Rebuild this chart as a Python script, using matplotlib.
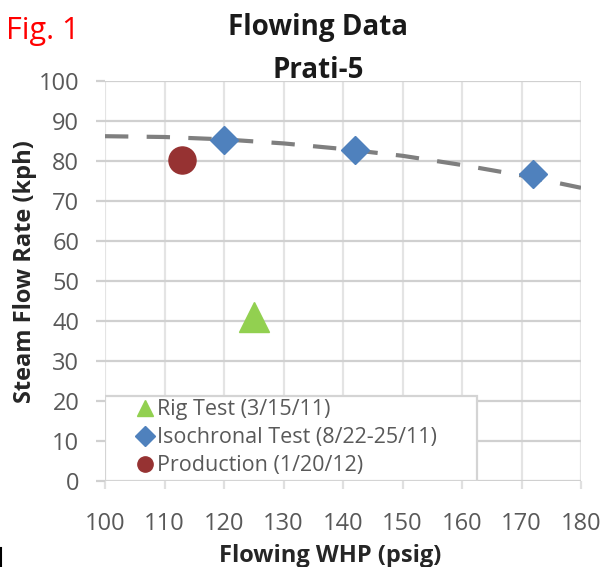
import matplotlib
matplotlib.use("Agg")
from matplotlib import pyplot as plt
from matplotlib.patches import Rectangle
from matplotlib.lines import Line2D

plt.rcParams['font.family'] = ['Open Sans', 'DejaVu Sans']

# measured points
rig_whp = [125]
rig_flow = [41]
iso_whp = [120, 142, 172]
iso_flow = [85.2, 82.8, 76.8]
prod_whp = [113]
prod_flow = [80.3]

# trend through the isochronal data
trend_whp = [100, 110, 120, 130, 140, 150, 160, 170, 180]
trend_flow = [86.2, 86.0, 85.4, 84.4, 83.0, 81.3, 79.0, 76.4, 73.3]

xticks = [100, 110, 120, 130, 140, 150, 160, 170, 180]
yticks = [0, 10, 20, 30, 40, 50, 60, 70, 80, 90, 100]

W, H = 607, 567
fig = plt.figure(figsize=(W/100, H/100), dpi=100)
ax = fig.add_axes([105/W, 1-481/H, 476/W, 400/H])

ax.plot(trend_whp, trend_flow, color='#7f7f7f', lw=3.0, dashes=(5.6, 4.4), zorder=3)
ax.plot(rig_whp, rig_flow, ls='none', marker='^', ms=21.5, color='#92D050',
        mec='#92D050', label='Rig Test (3/15/11)', zorder=4)
ax.plot(iso_whp, iso_flow, ls='none', marker='D', ms=14, color='#4F81BD',
        mec='#4F81BD', label='Isochronal Test (8/22-25/11)', zorder=4)
ax.plot(prod_whp, prod_flow, ls='none', marker='o', ms=19.5, color='#963232',
        mec='#963232', label='Production (1/20/12)', zorder=4)

ax.set_xlim(100, 180)
ax.set_ylim(0, 100)
ax.set_xticks(xticks)
ax.set_yticks(yticks)
for s in ax.spines.values():
    s.set_visible(False)
ax.set_axisbelow(True)
ax.grid(axis='y', color='#d0d0d0', lw=1.6)
ax.grid(axis='x', color='#e4e4e4', lw=1.6)
ax.tick_params(axis='y', direction='out', length=6.5, width=1.6, color='#d0d0d0',
               pad=12, labelsize=17, labelcolor='#595959')
ax.tick_params(axis='x', direction='out', length=6, width=1.6, color='#e0e0e0',
               pad=16, labelsize=17, labelcolor='#595959')

# legend box in the lower left corner
box_w, box_h = 372/476, 85/400
ax.add_patch(Rectangle((0, 0), box_w, box_h, transform=ax.transAxes,
                       facecolor='white', edgecolor='#d4d4d4', lw=1.6, zorder=5))
leg = ax.legend(loc='upper left', bbox_to_anchor=(26/476, box_h + 1/400),
                frameon=False, fontsize=15.5, handlelength=0.9, handletextpad=0.12,
                labelspacing=0.32, borderpad=0.2, borderaxespad=0)
leg.set_zorder(6)
for h, ms in zip(leg.legend_handles, [11, 10, 11]):
    h.set_markersize(ms)
for t in leg.get_texts():
    t.set_color('#595959')

fig.text(318/W, 1-35/H, 'Flowing Data', ha='center', va='baseline',
         fontsize=20, fontweight='bold', color='#1a1a1a')
fig.text(318/W, 1-78/H, 'Prati-5', ha='center', va='baseline',
         fontsize=20, fontweight='bold', color='#1a1a1a')
fig.text(6/W, 1-39/H, 'Fig. 1', ha='left', va='baseline', fontsize=22, color='#ff0000')
fig.text(330/W, 1-562/H, 'Flowing WHP (psig)', ha='center', va='baseline',
         fontsize=17, fontweight='bold', color='#262626')
fig.text(25/W, 1-272/H, 'Steam Flow Rate (kph)', ha='center', va='center', rotation=90,
         fontsize=17, fontweight='bold', color='#262626')

fig.add_artist(Line2D([1/W, 1/W], [0, 1-548/H], color='black', lw=1.5))

fig.savefig('out.png', dpi=100)
